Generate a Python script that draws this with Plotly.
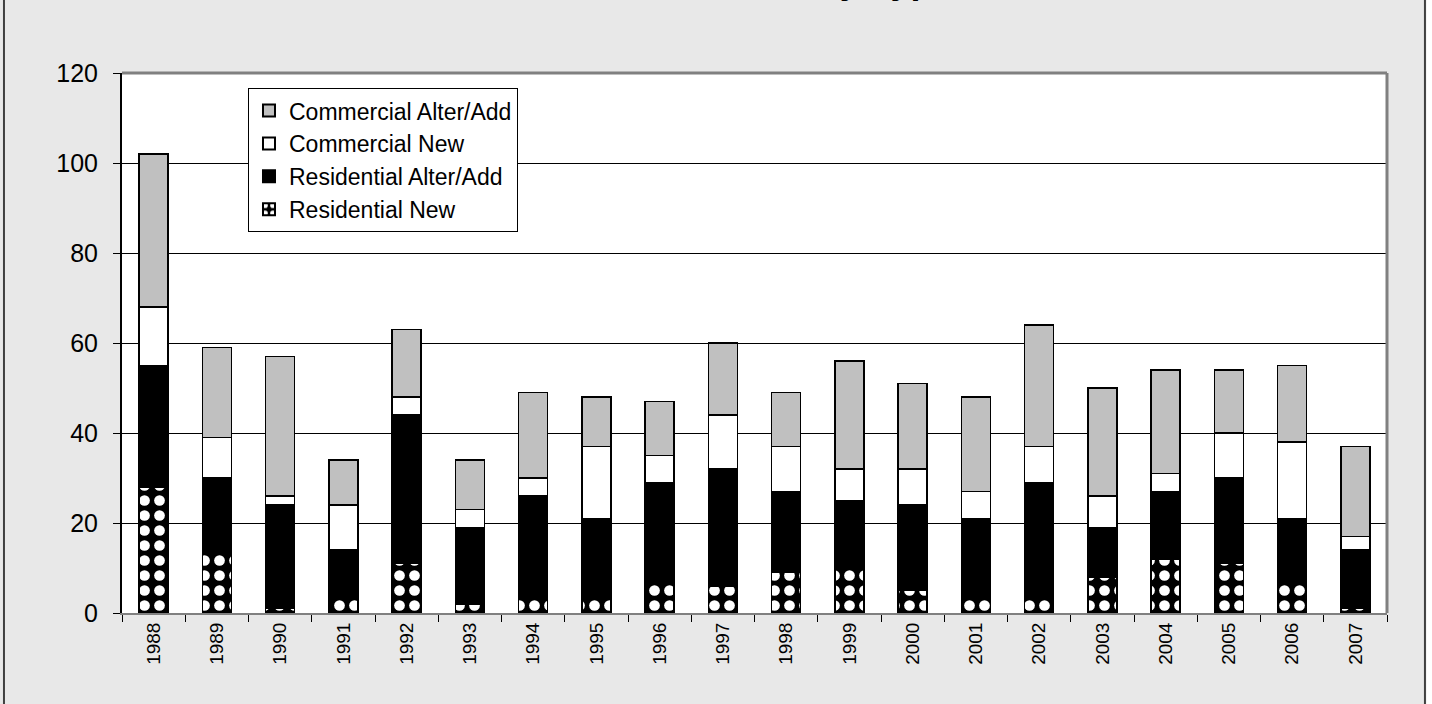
import plotly.graph_objects as go

years = [str(y) for y in range(1988, 2008)]
residential_new = [28, 13, 1, 4, 11, 2, 4, 3, 7, 6, 9, 10, 5, 3, 4, 8, 12, 11, 7, 1]
residential_alter = [27, 17, 23, 10, 33, 17, 22, 18, 22, 26, 18, 15, 19, 18, 25, 11, 15, 19, 14, 13]
commercial_new = [13, 9, 2, 10, 4, 4, 4, 16, 6, 12, 10, 7, 8, 6, 8, 7, 4, 10, 17, 3]
commercial_alter = [34, 20, 31, 10, 15, 11, 19, 11, 12, 16, 12, 24, 19, 21, 27, 24, 23, 14, 17, 20]

y_ticks = [0, 20, 40, 60, 80, 100, 120]
title_text = "Number of Permits by Type"

FONT = "Arial, Liberation Sans, sans-serif"

fig = go.Figure()
fig.add_trace(go.Bar(
    x=years, y=residential_new, name="Residential New",
    marker=dict(color="black", line=dict(color="black", width=1.5),
                pattern=dict(shape=".", fgcolor="white", bgcolor="black",
                             size=15, solidity=0.4, fillmode="replace")),
))
fig.add_trace(go.Bar(
    x=years, y=residential_alter, name="Residential Alter/Add",
    marker=dict(color="black", line=dict(color="black", width=1.5)),
))
fig.add_trace(go.Bar(
    x=years, y=commercial_new, name="Commercial New",
    marker=dict(color="white", line=dict(color="black", width=1.5)),
))
fig.add_trace(go.Bar(
    x=years, y=commercial_alter, name="Commercial Alter/Add",
    marker=dict(color="#C0C0C0", line=dict(color="black", width=1.5)),
))

fig.update_layout(
    barmode="stack",
    bargap=0.54,
    width=1432, height=704,
    margin=dict(l=122, r=45, t=73, b=91),
    paper_bgcolor="#E8E8E8",
    plot_bgcolor="white",
    font=dict(family=FONT, color="black", size=20),
    showlegend=True,
    legend=dict(
        x=0.0996, y=0.972, xanchor="left", yanchor="top",
        bgcolor="white", bordercolor="black", borderwidth=1,
        traceorder="reversed",
        font=dict(size=23, family=FONT),
        itemsizing="constant", tracegroupgap=0,
        itemwidth=30,
    ),
    xaxis=dict(
        type="category",
        tickangle=-90,
        tickfont=dict(size=19),
        ticks="outside", ticklen=7, tickcolor="black",
        tickson="boundaries",
        showline=True, linecolor="#808080", linewidth=2,
        showgrid=False,
    ),
    yaxis=dict(
        range=[0, 120],
        tickvals=y_ticks,
        tickfont=dict(size=25),
        ticks="outside", ticklen=7, tickcolor="black",
        ticklabelstandoff=10,
        showline=True, linecolor="black", linewidth=2,
        showgrid=True, gridcolor="black", gridwidth=1,
        zeroline=False,
    ),
    annotations=[dict(
        text="<b><i>" + title_text + "</i></b>",
        xref="paper", yref="paper", x=0.661, y=1.1295,
        xanchor="right", yanchor="bottom", showarrow=False,
        font=dict(size=36, family=FONT),
    )],
    shapes=[
        dict(type="rect", xref="paper", yref="paper",
             x0=1.0312, x1=1.2, y0=-0.5, y1=1.5,
             line=dict(width=0), fillcolor="white", layer="below"),
        dict(type="rect", xref="paper", yref="paper",
             x0=-0.0933, x1=1.0300, y0=-0.3, y1=1.3,
             line=dict(color="#404040", width=2), fillcolor="rgba(0,0,0,0)",
             layer="below"),
        dict(type="line", xref="paper", yref="paper",
             x0=1, x1=1, y0=0, y1=1,
             line=dict(color="#808080", width=3)),
        dict(type="line", xref="paper", yref="paper",
             x0=0, x1=1, y0=1, y1=1,
             line=dict(color="#808080", width=3)),
    ],
)

fig.write_html("out.html", config={"displayModeBar": False},
               post_script="document.body.style.margin='0px';")
